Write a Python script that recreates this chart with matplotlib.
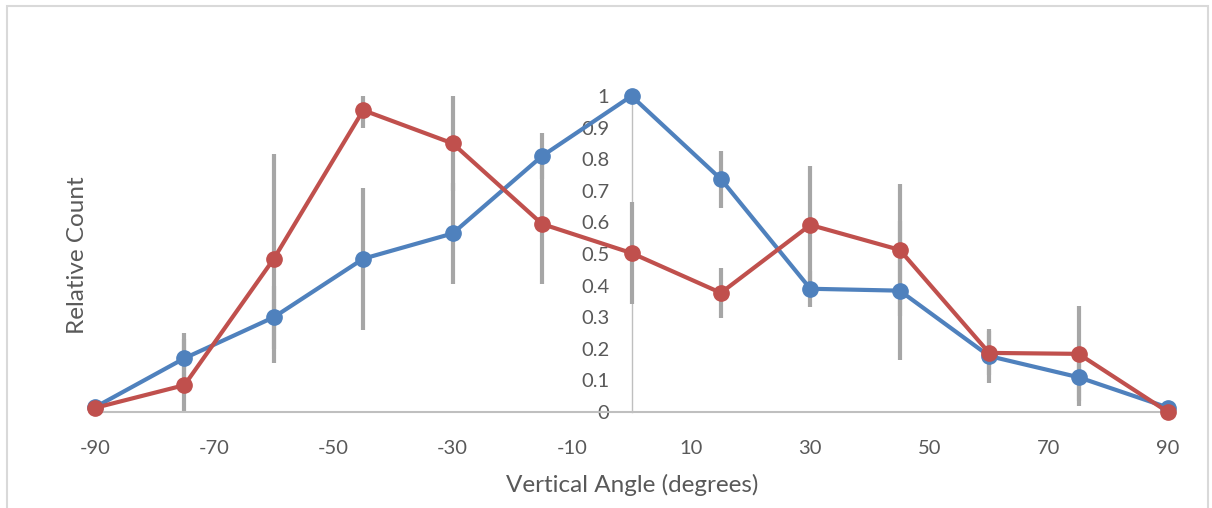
import numpy as np
import matplotlib.pyplot as plt
from matplotlib.patches import Rectangle

# data
angles = [-90, -75, -60, -45, -30, -15, 0, 15, 30, 45, 60, 75, 90]
blue_vals = [0.015, 0.17, 0.30, 0.485, 0.565, 0.81, 1.0, 0.737, 0.39, 0.384, 0.177, 0.11, 0.014]
red_vals = [0.013, 0.085, 0.485, 0.955, 0.85, 0.595, 0.503, 0.377, 0.592, 0.513, 0.187, 0.184, 0.0]
blue_err = [0, 0.06, 0.10, 0.225, 0.16, 0.073, 0, 0.09, 0.057, 0.22, 0.085, 0.09, 0]
red_err = [0, 0.165, 0.33, 0.055, 0.15, 0.19, 0.16, 0.08, 0.185, 0.21, 0.07, 0.15, 0]
x_ticks = [-90, -70, -50, -30, -10, 10, 30, 50, 70, 90]
y_ticks = [0, 0.1, 0.2, 0.3, 0.4, 0.5, 0.6, 0.7, 0.8, 0.9, 1]
y_labels = ['0', '0.1', '0.2', '0.3', '0.4', '0.5', '0.6', '0.7', '0.8', '0.9', '1']

plt.rcParams['font.family'] = ['Lato', 'DejaVu Sans']
txt_color = '#595959'
blue = '#4F81BD'
red = '#C0504D'
grey = '#A6A6A6'

fig = plt.figure(figsize=(12.12, 5.08), dpi=100)
ax = fig.add_axes([95/1212, 96/508, 1073/1212, 316/508])

# outer chart border (bottom runs off the image)
fig.patches.append(Rectangle((7/1212, -0.05), 1201/1212, 1.05 - 6/508, transform=fig.transFigure,
                             fill=False, edgecolor='#D9D9D9', linewidth=1.5))

# error bars, clipped to the plot area
ax.errorbar(angles, blue_vals, yerr=blue_err, fmt='none', ecolor=grey, elinewidth=3, capsize=0, zorder=2)
ax.errorbar(angles, red_vals, yerr=red_err, fmt='none', ecolor=grey, elinewidth=3, capsize=0, zorder=2)

ax.plot(angles, blue_vals, color=blue, lw=3, marker='o', ms=11, clip_on=False, zorder=3)
ax.plot(angles, red_vals, color=red, lw=3, marker='o', ms=11, clip_on=False, zorder=4)

ax.set_xlim(-90, 90)
ax.set_ylim(0, 1)

for s in ['top', 'right']:
    ax.spines[s].set_visible(False)
ax.spines['left'].set_position(('data', 0))
ax.spines['left'].set_color('#BFBFBF')
ax.spines['left'].set_linewidth(1)
ax.spines['left'].set_zorder(1)
ax.spines['bottom'].set_color('#BFBFBF')
ax.spines['bottom'].set_linewidth(1.5)

ax.set_xticks(x_ticks)
ax.set_xticklabels([str(t) for t in x_ticks])
ax.set_yticks(y_ticks)
ax.set_yticklabels(y_labels)
ax.tick_params(axis='x', length=0, pad=20, labelsize=14.5, labelcolor=txt_color)
ax.tick_params(axis='y', length=0, pad=16, labelsize=14.5, labelcolor=txt_color)

fig.text(77/1212, (508-255)/508, 'Relative Count', rotation=90, ha='center', va='center',
         fontsize=17.5, color=txt_color)
fig.text(632/1212, (508-485)/508, 'Vertical Angle (degrees)', ha='center', va='center',
         fontsize=17.5, color=txt_color)

fig.savefig('out.png', dpi=100)
